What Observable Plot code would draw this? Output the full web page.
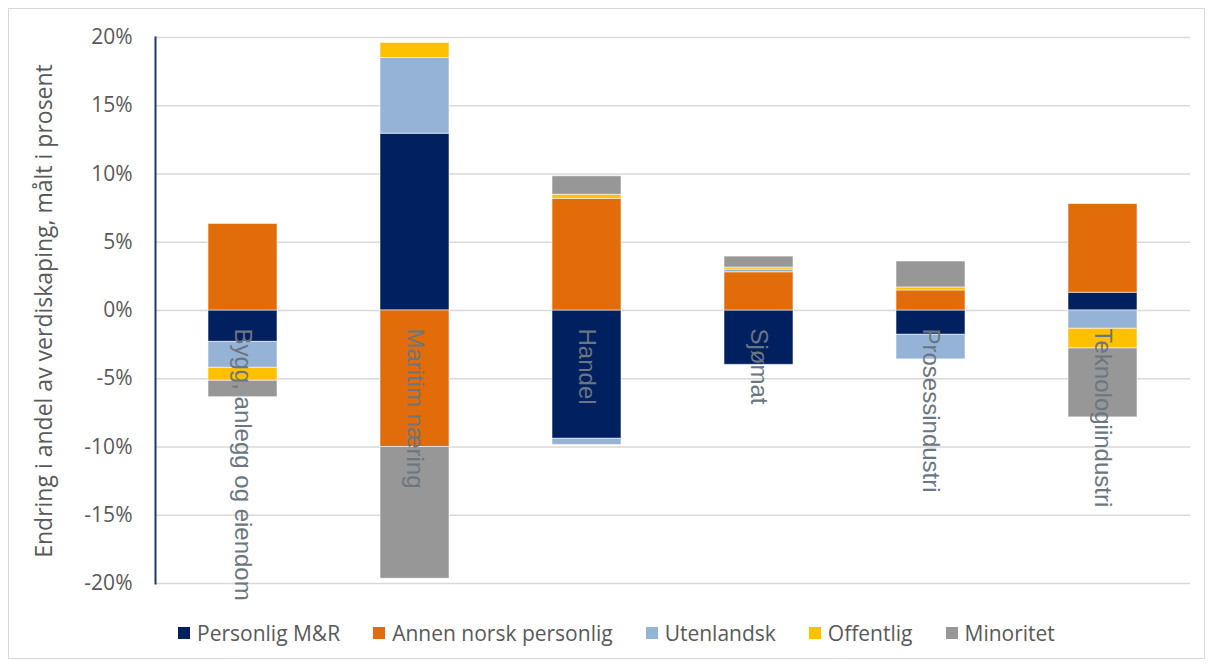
<!DOCTYPE html>
<html>
<head>
<meta charset="utf-8">
<script src="https://cdn.jsdelivr.net/npm/d3@7"></script>
<script src="https://cdn.jsdelivr.net/npm/@observablehq/plot@0.6"></script>
<style>
  html, body { margin: 0; padding: 0; background: #fff; }
  #wrap { position: relative; width: 1214px; height: 668px; overflow: hidden; font-family: "Open Sans", sans-serif; }
  #border { position: absolute; left: 8px; top: 8px; width: 1197px; height: 651px; border: 1px solid #d9d9d9; box-sizing: border-box; }
  #chart { position: absolute; left: 0; top: 0; }
  #ytitle { position: absolute; left: 43px; top: 311px; transform: translate(-50%, -50%) rotate(-90deg); white-space: nowrap; font-size: 23px; color: #595959; }
  #legend { position: absolute; left: 178px; top: 619px; display: flex; align-items: center; font-size: 21px; color: #595959; }
  .item { display: flex; align-items: center; margin-right: 33px; }
  .sw { width: 12px; height: 12px; margin-right: 7px; }
</style>
</head>
<body>
<div id="wrap">
  <div id="border"></div>
  <div id="chart"></div>
  <div id="ytitle">Endring i andel av verdiskaping, målt i prosent</div>
  <div id="legend"></div>
</div>
<script>
const categories = ["Bygg, anlegg og eiendom", "Maritim næring", "Handel", "Sjømat", "Prosessindustri", "Teknologiindustri"];
const series = ["Personlig M&R", "Annen norsk personlig", "Utenlandsk", "Offentlig", "Minoritet"];
const colors = ["#002060", "#E36C0A", "#95B3D7", "#FFC000", "#979797"];

const personligMR = [-2.3, 12.95, -9.4, -3.98, -1.78, 1.3];
const annenNorsk  = [6.34, -10.0, 8.18, 2.8, 1.47, 6.5];
const utenlandsk  = [-1.9, 5.55, -0.45, 0.2, -1.8, -1.34];
const offentlig   = [-0.95, 1.1, 0.3, 0.15, 0.22, -1.44];
const minoritet   = [-1.2, -9.65, 1.35, 0.8, 1.9, -5.05];

const yTicks = [-20, -15, -10, -5, 0, 5, 10, 15, 20];

const seriesValues = [personligMR, annenNorsk, utenlandsk, offentlig, minoritet];
const rows = [];
series.forEach((s, si) => {
  categories.forEach((c, ci) => rows.push({category: c, series: s, value: seriesValues[si][ci]}));
});

const plot = Plot.plot({
  width: 1214,
  height: 610,
  marginLeft: 155,
  marginRight: 24,
  marginTop: 37,
  marginBottom: 27,
  style: {fontFamily: "Open Sans, sans-serif", fontSize: "21px", color: "#595959", background: "transparent", overflow: "visible"},
  x: {domain: categories, paddingInner: 0.6, paddingOuter: 0.3, axis: null},
  y: {domain: [-20, 20], axis: null},
  color: {domain: series, range: colors},
  marks: [
    Plot.gridY(yTicks, {stroke: "#d9d9d9", strokeOpacity: 1, strokeWidth: 1.5}),
    Plot.barY(rows, {x: "category", y: "value", fill: "series", z: "series", stroke: "#ffffff", strokeOpacity: 0.55, strokeWidth: 1}),
    Plot.axisY(yTicks, {tickSize: 0, tickPadding: 23, tickFormat: d => d + "%", fill: "#595959", fontSize: 21, label: null}),
    Plot.frame({anchor: "left", stroke: "#203864", strokeWidth: 2}),
    Plot.text(categories, {x: d => d, y: () => 0, text: d => d, rotate: 90, textAnchor: "start", dy: 18, fontSize: 24, fontFamily: "Liberation Sans, Arial, sans-serif", fill: "#6b7680"})
  ]
});
document.getElementById("chart").appendChild(plot);

const legend = document.getElementById("legend");
series.forEach((s, i) => {
  const item = document.createElement("div");
  item.className = "item";
  const sw = document.createElement("div");
  sw.className = "sw";
  sw.style.background = colors[i];
  const t = document.createElement("span");
  t.textContent = s;
  item.appendChild(sw);
  item.appendChild(t);
  legend.appendChild(item);
});
</script>
</body>
</html>
